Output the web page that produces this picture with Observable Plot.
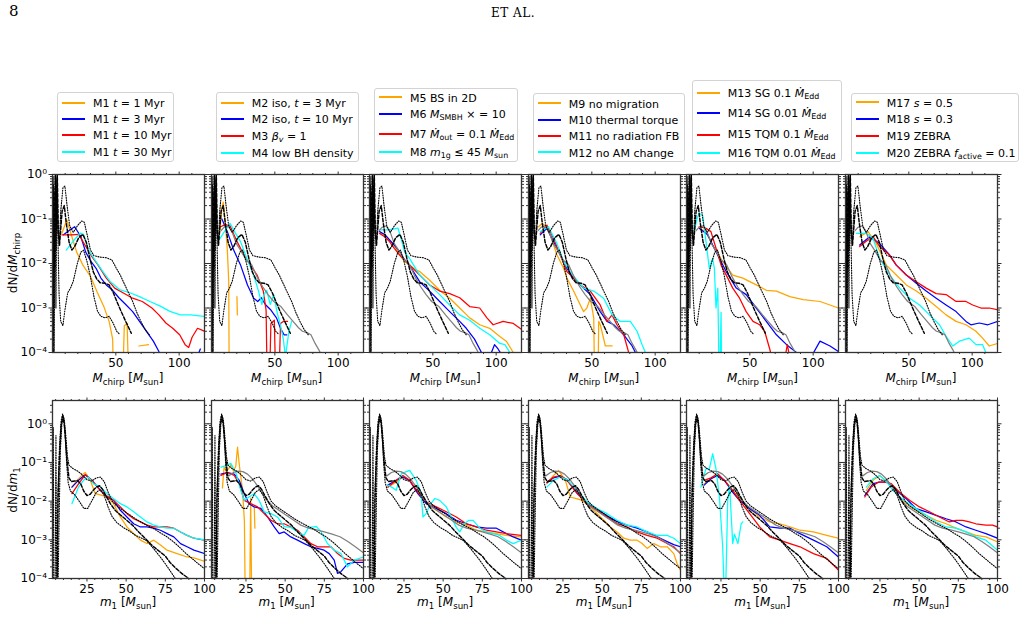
<!DOCTYPE html>
<html><head><meta charset="utf-8">
<script src="https://cdn.jsdelivr.net/npm/d3@7"></script>
<script src="https://cdn.jsdelivr.net/npm/@observablehq/plot@0.6"></script>
<style>
body{margin:0;background:#fff;width:1026px;height:625px;position:relative;overflow:hidden;font-family:"DejaVu Sans",sans-serif;color:#000;}
.abs{position:absolute;white-space:nowrap;}
.lg{position:absolute;border:1px solid #d3d3d3;border-radius:3px;background:#fff;box-sizing:border-box;}
.lg .sw{position:absolute;height:2px;}
.lg .tx{position:absolute;font-size:11px;line-height:11px;white-space:nowrap;transform:translateY(-50%);}
sub{font-size:72%;vertical-align:-0.3em;line-height:0;}
.xl{font-size:12px;transform:translate(-50%,-50%);}
.yl{font-size:12px;transform:translate(-50%,-50%) rotate(-90deg);}
</style></head><body>
<div class="abs" style="left:9px;top:2px;font-family:'DejaVu Serif',serif;font-size:15px;">8</div>
<div class="abs" style="left:513px;top:13px;transform:translate(-50%,-50%);font-family:'DejaVu Serif',serif;font-size:12px;letter-spacing:0.5px;">ET AL.</div>
<script>
// ---------- reference curves (same in every panel of a row) ----------
const topDash = [[0.2,1e-6],[0.9,0.4],[1.5,0.008],[2.3,1.0],[3.1,0.06],[3.8,1.0],[4.6,0.05],[5.5,0.025],[6.5,0.06],[7.6,0.15],[9.3,0.2],[10.9,0.08],[13.1,0.03],[15.3,0.02],[17.5,0.024],[20.7,0.038],[24,0.045],[26.7,0.03],[29.5,0.013],[32.2,0.0065],[34.9,0.0045],[37.6,0.0037],[41.5,0.0036],[44.7,0.0033],[48,0.0022],[51.3,0.0013],[54.5,8e-4],[57.8,5e-4],[60,3.7e-4],[62.2,2.7e-4]];
const topDotHi = [[0,1e-6],[0.5,0.9],[1.2,1e-3],[2,0.9],[2.8,0.02],[3.6,0.8],[4.4,0.05],[5.5,0.03],[6.5,0.15],[8.2,0.5],[9.8,0.55],[11.5,0.2],[13.6,0.07],[16.4,0.05],[19.6,0.07],[22.9,0.09],[25.1,0.085],[27.3,0.045],[30,0.02],[32.7,0.015],[37.1,0.014],[42.5,0.0135],[46.9,0.012],[50.2,0.008],[53.5,0.0055],[56.7,0.0035],[60,0.0022],[63.3,0.0014],[66.5,8e-4],[69.8,5e-4],[73.1,3.3e-4],[76.4,2.5e-4]];
const topDotLo = [[0,1e-6],[0.7,0.6],[1.3,1e-4],[2.1,0.5],[2.7,1e-3],[3.5,0.9],[4.2,0.05],[5.2,0.002],[6.5,5e-4],[8.2,4e-4],[9.8,9e-4],[12,0.0022],[14.2,0.0028],[16.4,0.004],[19.6,0.01],[22.4,0.018],[24.5,0.02],[27.3,0.011],[30,0.005],[32.7,0.0018],[35.5,8.5e-4],[38.2,6.5e-4],[41.5,6e-4],[44.7,6.5e-4],[48,4.5e-4],[50.7,3e-4],[52.9,2.6e-4]];
const topGray = [[7.6,0.055],[9.8,0.065],[13.1,0.07],[16.4,0.05],[19.6,0.028],[22.9,0.02],[27.3,0.012],[31.6,0.0095],[36,0.005],[40.4,0.003],[44.7,0.002],[49.1,0.0014],[54.5,0.0011],[60,7e-4],[64.4,5e-4],[68.7,3.6e-4],[71.8,3e-4],[75.3,2.8e-4],[78.5,2.5e-4],[81.8,1.6e-4],[85.1,1.1e-4],[88.4,7e-5]];

const botDash = [[5.5,1e-6],[6.5,0.01],[7.5,0.15],[8.5,0.9],[9.5,1.6],[10.5,1.0],[11.5,0.3],[12.5,0.09],[13.5,0.04],[15,0.032],[17,0.033],[19,0.034],[21,0.028],[23,0.018],[25,0.014],[27,0.015],[29,0.019],[31,0.023],[33,0.025],[35,0.02],[37,0.014],[40,0.0085],[43,0.0058],[46,0.0045],[50,0.0033],[54,0.0024],[58,0.0016],[62,0.0011],[66,7.5e-4],[70,5.5e-4],[75,3.8e-4],[78,2.6e-4],[82,1.8e-4],[86,1.3e-4],[90,1e-4],[93,7.5e-5]];
const botDotHi = [[3,1e-6],[3.5,0.8],[4.1,1e-6],[5.5,1e-6],[6.5,0.02],[7.5,0.3],[8.5,1.2],[9.5,1.8],[10.5,1.3],[11.5,0.5],[12.5,0.15],[13.5,0.085],[16,0.07],[19,0.06],[22,0.048],[25,0.036],[28,0.033],[31,0.04],[33.5,0.042],[36,0.032],[38.5,0.017],[41,0.01],[44,0.0075],[48,0.0058],[52,0.0045],[56,0.0035],[60,0.0028],[64,0.0023],[68,0.0019],[72,0.0015],[76,0.0012],[80,9e-4],[84,6.5e-4],[88,4.5e-4],[92,3.3e-4],[96,2.4e-4],[100,1.8e-4]];
const botDotLo = [[4.5,1e-6],[5.2,0.5],[5.9,1e-6],[7,1e-3],[8,0.2],[9,1.0],[10,1.5],[11,0.6],[12,0.1],[13,0.03],[14.5,0.018],[17,0.015],[20,0.01],[23,0.0065],[25.5,0.0065],[28,0.01],[31,0.017],[33.5,0.02],[36,0.014],[38.5,0.007],[41,0.004],[44,0.0028],[48,0.0021],[52,0.0017],[56,0.0013],[60,0.0011],[63,9.5e-4],[66,7e-4],[69,5e-4],[72,3.5e-4],[75,2.4e-4],[78,1.6e-4],[81,1.05e-4],[83,8e-5]];
const botGray = [[14,0.045],[17,0.055],[20,0.06],[23,0.058],[26,0.05],[29,0.038],[32,0.026],[35,0.017],[38,0.011],[42,0.0075],[46,0.0058],[50,0.0045],[55,0.0033],[60,0.0024],[65,0.002],[70,0.0018],[75,0.0016],[80,0.0014],[85,0.0012],[90,9e-4],[95,6.5e-4],[100,4.6e-4]];

// ---------- model curves, top row (dN/dMchirp) ----------
const t1_orange = [[7.4,0.048],[11.3,0.095],[15.3,0.04],[19.1,0.018],[24,0.0092],[30,0.0051],[35.5,0.0022],[40.4,0.0011],[44.7,5e-4],[47.5,2e-4],[49.1,1e-6],[51.3,null],[54,1e-6],[56.7,4e-4],[58.9,4.5e-4],[61.6,1e-6],[64.4,null],[68.2,1.4e-4],[75.8,1.5e-4]];
const t1_blue = [[8.7,0.044],[13.1,0.055],[17.5,0.067],[22.4,0.04],[26.2,0.018],[30.5,0.011],[34.4,0.0078],[38.2,0.0047],[42.5,0.0033],[47.5,0.0025],[52.4,0.0017],[57.8,0.0012],[63.3,8.3e-4],[68.7,5e-4],[74.2,3e-4],[79.6,1.8e-4],[84,1.05e-4],[86.2,6e-5],[88.4,null],[113.5,7e-5],[116.7,1.2e-4]];
const t1_red = [[7.4,0.044],[15.3,0.044],[20.7,0.045],[25.6,0.026],[31.1,0.0142],[36,0.0092],[42.5,0.0047],[49.1,0.0028],[55.6,0.0022],[63.3,0.00166],[70.9,0.0014],[78.5,0.001],[84,7e-4],[89.5,4.6e-4],[94.9,3.5e-4],[100.4,2.5e-4],[104.7,1.5e-4],[107.5,1.3e-4],[110.2,2.2e-4],[114.5,3.5e-4],[120,3e-4]];
const t1_cyan = [[10.9,0.02],[16.4,0.032],[21.8,0.048],[24.5,0.045],[28.4,0.02],[34.4,0.011],[39.8,0.0066],[45.3,0.004],[52.9,0.0026],[61.1,0.0022],[68.7,0.0018],[76.9,0.0014],[85.1,0.0011],[92.7,8.4e-4],[100.9,7e-4],[109.1,7e-4],[120,6.5e-4]];

const t2_orange = [[6.5,0.05],[8.2,0.18],[9.3,0.24],[10.9,0.08],[12.5,0.02],[13.6,0.004],[14.2,1e-6],[15.3,null],[20.1,0.0018],[20.4,7e-4]];
const t2_blue = [[8.2,0.1],[12.5,0.052],[17.5,0.02],[22.9,0.0093],[28.4,0.0033],[33.3,0.00166],[36.5,0.0014],[39.3,0.0017],[42.5,0.0012],[46.9,9e-4],[51.3,6e-4],[54.5,3.5e-4],[57.3,2.5e-4],[59.5,2.5e-4]];
const t2_red = [[7.1,0.067],[10.9,0.075],[14.7,0.07],[20.2,0.031],[25.6,0.0155],[30.5,0.0093],[36,0.0055],[40.9,0.0024],[43.1,9e-4],[44.7,1e-6],[46.9,4.5e-4],[49.6,5.3e-4],[51.8,1e-6],[54.5,4.5e-4],[56.7,5e-4],[60,5e-4]];
const t2_cyan = [[6,0.034],[9.8,0.05],[14.7,0.08],[18.5,0.05],[22.9,0.031],[28.4,0.012],[33.3,0.0055],[37.1,0.0024],[39.8,0.0012],[41.5,0.002],[43.6,0.0025],[46.4,0.0012],[49.1,0.002],[51.8,8e-4],[54.5,4e-4],[56.7,2e-4],[58.4,8e-5],[61.1,3e-4],[63.3,5e-4]];

const t3_orange = [[8,0.0475],[12,0.045],[15.8,0.034],[19.6,0.025],[23.8,0.0155],[27.8,0.011],[31.6,0.0092],[35.5,0.0075],[39.6,0.0066],[47.5,0.0042],[55.4,0.0025],[63.3,0.00166],[71.2,0.001],[79.1,6e-4],[87,4.2e-4],[94.9,3.5e-4],[102.9,2.3e-4],[108,1.8e-4],[113.5,1e-4],[115.6,6e-5]];
const t3_blue = [[8,0.052],[12,0.045],[15.8,0.034],[19.6,0.026],[23.8,0.0184],[27.8,0.012],[31.6,0.0092],[35.5,0.006],[39.6,0.0039],[47.5,0.0024],[55.4,0.0014],[63.3,8.3e-4],[71.2,5e-4],[76.4,3.5e-4],[82.9,2e-4],[88.4,1e-4],[90.5,6e-5],[92.7,null],[94.9,8e-5],[98.7,1.5e-4],[101.5,1.2e-4],[104.2,9e-5]];
const t3_red = [[8,0.0475],[12,0.04],[15.8,0.031],[19.6,0.022],[23.8,0.0155],[27.8,0.012],[31.6,0.0093],[39.6,0.0055],[47.5,0.0033],[55.4,0.0024],[63.3,0.0021],[71.2,0.0017],[79.1,0.00108],[87,0.001],[92.7,6e-4],[97.6,4.2e-4],[105.5,5e-4],[113.5,4.5e-4],[120,3.3e-4]];
const t3_cyan = [[8,0.057],[15.8,0.057],[19.6,0.06],[22.5,0.062],[25.1,0.035],[27.7,0.018],[31.6,0.013],[39.6,0.0055],[47.5,0.0033],[55.4,0.002],[63.3,0.00117],[71.2,7e-4],[79.1,5.3e-4],[87,3.5e-4],[94.9,2.5e-4],[102.9,1.6e-4],[106.9,1.5e-4],[110.8,1e-4],[112.4,7e-5]];

const t4_orange = [[8,0.067],[10.6,0.08],[13.6,0.07],[17.1,0.044],[22.5,0.0155],[27.7,0.0078],[30.3,0.0047],[35.6,0.0024],[40.9,0.00117],[43.5,8.3e-4],[46.1,0.001],[48.8,0.00166],[51.5,6e-4],[52.8,1e-6],[54.5,1e-6],[55.4,5e-4],[56.7,4.2e-4],[60.7,1.4e-4],[66,1.4e-4]];
const t4_blue = [[9.3,0.044],[14.5,0.062],[19.7,0.031],[25.1,0.0155],[30.3,0.0078],[35.6,0.0047],[40.9,0.0033],[48.8,0.002],[56.6,8.3e-4],[62,5e-4],[67.3,4.2e-4],[75.2,2.5e-4],[81.8,1.4e-4],[84.4,1e-4],[86.2,6e-5]];
const t4_red = [[9.3,0.0475],[14.5,0.073],[19.7,0.037],[25.1,0.0155],[30.3,0.0066],[35.6,0.0047],[40.9,0.0033],[48.8,0.0024],[56.6,0.00117],[62,5e-4],[65.9,7e-4],[69.8,4.2e-4],[75.2,2.5e-4],[79.1,1e-4],[80.7,5e-5]];
const t4_cyan = [[9.3,0.052],[15.8,0.067],[22.5,0.028],[27.7,0.011],[32.9,0.0066],[38.3,0.0042],[43.5,0.0028],[51.5,0.0024],[59.3,0.00166],[66,7e-4],[72.5,5e-4],[80.4,5e-4],[85.7,3e-4],[89.7,1.5e-4],[92.3,1e-4],[93.8,6e-5]];

const t5_orange = [[10,0.062],[15.4,0.052],[20.6,0.026],[28.6,0.011],[36.5,0.0055],[44.5,0.0047],[55.1,0.0033],[63,0.0025],[71,0.0024],[81.6,0.0018],[92.2,0.00155],[105.4,0.0014],[113.3,0.00117],[120,0.001]];
const t5_blue = [[10,0.062],[16.7,0.044],[23.3,0.0184],[31.3,0.0066],[39.3,0.0028],[47.1,0.002],[55.1,0.001],[63,5e-4],[71,2.5e-4],[79,1.5e-4],[86.8,1e-4],[90.5,7e-5],[97.1,8e-5],[100.4,1e-4],[105.4,1.8e-4],[113.3,1.4e-4],[120,1.05e-4]];
const t5_red = [[10,0.067],[15.4,0.062],[19.3,0.052],[23.3,0.022],[27.3,0.0092],[32.6,0.0047],[36.5,0.0028],[41.9,0.00166],[47.1,8.3e-4],[52.5,5e-4],[57.8,4.2e-4],[61.7,3e-4],[65.7,1.2e-4],[68.3,6e-5],[70.9,null],[77.5,7e-5],[79.6,1.5e-4],[81.8,7e-5]];
const t5_cyan = [[6.1,0.052],[8.2,0.1],[10,0.134],[12.8,0.12],[15.4,0.031],[18,0.0078],[20.6,0.013],[22,0.0078],[23.3,0.001],[24.7,0.0028],[26,1e-5],[27.3,8e-4],[27.9,1e-5]];

const t6_orange = [[11.2,0.04],[17.8,0.052],[24.3,0.028],[32.2,0.0092],[40.1,0.0055],[48,0.0033],[55.9,0.0024],[63.7,0.00166],[71.6,0.00108],[79.4,7e-4],[87.3,5e-4],[95.1,4.2e-4],[103,3e-4],[108.2,2.1e-4],[113.5,1.4e-4],[120,1.6e-4]];
const t6_blue = [[11.2,0.026],[19.1,0.04],[27,0.028],[34.8,0.0155],[40.1,0.0092],[48,0.0055],[55.9,0.0036],[63.7,0.0024],[71.6,0.00166],[79.4,0.00117],[87.3,8.3e-4],[95.1,5e-4],[99,4.2e-4],[105.6,4.6e-4],[112.4,4.2e-4],[120,5e-4]];
const t6_red = [[11.2,0.024],[17.8,0.034],[21.7,0.04],[27,0.024],[34.8,0.0155],[40.1,0.0092],[48,0.0055],[55.9,0.0039],[63.7,0.0028],[71.6,0.0021],[79.4,0.002],[87.3,0.0014],[95.1,0.0014],[100.4,0.00117],[106.9,0.001],[113.5,0.001],[120,9.1e-4]];
const t6_cyan = [[8.6,0.0475],[16.5,0.0475],[21.7,0.037],[27,0.013],[34.8,0.0055],[42.8,0.0028],[50.6,0.00166],[58.5,0.00117],[66.3,7e-4],[74.2,4.2e-4],[79.4,2.3e-4],[84.7,1.4e-4],[89.9,1.8e-4],[97.7,2.1e-4],[103,1.5e-4],[108.2,1.5e-4],[110.8,1e-4],[112.4,7e-5]];

// ---------- model curves, bottom row (dN/dm1) ----------
const b1_orange = [[15.4,0.023],[18.6,0.0345],[22.8,0.0513],[23.9,0.055],[27.1,0.0345],[30.3,0.0156],[33.5,0.0145],[37.8,0.0128],[42,0.0086],[46.3,0.0039],[50.5,0.00215],[54.8,0.00145],[59.1,9.8e-4],[63.3,8e-4],[67.6,9.8e-4],[71.9,7.3e-4],[76.1,5.4e-4],[82.5,4.4e-4],[88.9,3.6e-4],[93.2,3.4e-4],[100,2.8e-4]];
const b1_blue = [[15.4,0.023],[19.6,0.0345],[23.9,0.048],[28.2,0.0345],[33.5,0.019],[37.8,0.0128],[42,0.0105],[46.3,0.0058],[50.5,0.0039],[54.8,0.0026],[59.1,0.00215],[63.3,0.00215],[67.6,0.002],[71.9,0.00177],[76.1,0.00145],[80.4,0.00119],[84.7,8e-4],[88.9,6.6e-4],[93.2,5.4e-4],[100,4.4e-4]];
const b1_red = [[15.4,0.0156],[19.6,0.028],[23.9,0.048],[28.2,0.0345],[33.5,0.019],[37.8,0.0135],[42,0.0105],[46.3,0.0071],[50.5,0.00475],[54.8,0.0035],[59.1,0.0029],[63.3,0.0024],[67.6,0.00215],[71.9,0.00215],[76.1,0.00215],[80.4,0.002],[84.7,0.0016],[88.9,0.0013],[93.2,0.0011],[100,9.8e-4]];
const b1_cyan = [[15.4,0.0086],[19.6,0.0232],[22.8,0.0345],[26,0.042],[29.2,0.028],[33.5,0.0232],[37.8,0.0156],[42,0.0115],[46.3,0.0086],[50.5,0.0071],[54.8,0.0053],[59.1,0.0039],[63.3,0.0029],[67.6,0.0024],[71.9,0.00215],[76.1,0.002],[80.4,0.002],[84.7,0.0016],[88.9,0.0013],[93.2,0.0011],[100,0.001]];

const b2_orange = [[10,0.022],[11,0.075],[12.5,0.06],[14,0.07],[15.5,0.09],[17,0.06],[18.5,0.08],[19.6,0.25],[20.7,0.09],[22.8,0.019],[24,0.003],[24.9,1e-6],[26.5,null],[27,1e-6],[28,0.012],[29,1e-6],[29.5,null],[30.3,0.007],[30.7,0.002]];
const b2_blue = [[9,0.05],[13.2,0.055],[17.5,0.05],[20.7,0.0345],[23.9,0.0156],[27,0.0086],[30.2,0.0071],[34.5,0.0065],[38.8,0.0039],[43,0.00215],[46.2,0.00145],[49.4,0.0016],[53.6,0.00119],[57.9,9.8e-4],[62.2,8e-4],[66.4,6.6e-4],[70.7,6e-4],[74.9,5.4e-4],[78.1,4.4e-4],[81.3,3e-4],[83.4,1.35e-4],[85.6,1.5e-4],[89.8,2.4e-4],[94.1,2.6e-4],[100,2.6e-4]];
const b2_red = [[9,0.046],[13.2,0.055],[17.5,0.046],[20.7,0.028],[23.9,0.0105],[28.1,0.0086],[32.4,0.0071],[36.6,0.00475],[40.9,0.0032],[45.1,0.0026],[49.4,0.0026],[53.6,0.00215],[57.9,0.00177],[62.2,0.00119],[66.4,8e-4],[70.7,6.6e-4],[74.9,6.6e-4],[79.2,6.6e-4],[83.4,4.4e-4],[87.7,3.3e-4],[91.9,3e-4],[100,3e-4]];
const b2_cyan = [[9,0.076],[13.2,0.085],[15.3,0.095],[18.5,0.055],[21.7,0.019],[23.9,0.0105],[27,0.0128],[30.2,0.0156],[33.4,0.0105],[36.6,0.0053],[40.9,0.00475],[45.1,0.0039],[49.4,0.0022],[53.6,0.0021],[58,0.0016],[62,0.0013],[65,0.0021],[70,0.0022],[73,0.0016],[77,8e-4],[81.3,5.4e-4],[85.6,4.4e-4],[89.8,2e-4],[94.1,3e-4],[100,3.6e-4]];

const b3_orange = [[14.7,0.023],[20,0.031],[24.3,0.042],[28.6,0.0345],[33.9,0.0156],[39.2,0.0086],[45.6,0.0058],[52,0.0039],[58.4,0.0029],[64.8,0.0024],[71.2,0.00177],[77.6,0.0016],[84,0.00145],[90.4,0.0013],[100,0.00119]];
const b3_blue = [[14.7,0.026],[20,0.0345],[24.3,0.042],[28.6,0.0345],[33.9,0.0156],[39.2,0.0086],[45.6,0.0064],[52,0.00475],[58.4,0.0032],[64.8,0.0026],[71.2,0.00215],[77.6,0.002],[84,0.002],[90.4,0.00145],[94.7,0.00119],[100,9.8e-4]];
const b3_red = [[14.7,0.023],[20,0.0345],[24.3,0.046],[28.6,0.0345],[33.9,0.017],[39.2,0.0095],[45.6,0.0071],[52,0.0053],[58.4,0.0039],[64.8,0.0026],[71.2,0.00215],[77.6,0.00177],[84,0.0016],[90.4,0.00145],[100,0.0013]];
const b3_cyan = [[14.7,0.026],[18,0.022],[20,0.019],[23.3,0.0513],[28.6,0.0625],[32.8,0.0345],[36,0.0156],[37.1,0.0039],[39.2,0.00475],[41.4,0.0078],[44.6,0.0117],[47.8,0.0105],[52,0.0071],[55.2,0.0039],[58.4,0.0021],[60.6,0.0016],[63.5,0.0026],[66.5,0.0032],[69.1,0.0032],[73.4,0.002],[77.6,0.0016],[81.9,0.00145],[86.1,0.0013],[90.4,9.8e-4],[94.7,8e-4],[100,9.8e-4]];

const b4_orange = [[14.7,0.028],[19,0.046],[22.2,0.0625],[26.5,0.0345],[29.7,0.0128],[34,0.0115],[37.2,0.0105],[42.4,0.0071],[46.7,0.00475],[51,0.0032],[55.2,0.00215],[59.5,0.0016],[63.8,0.0011],[68,9.8e-4],[72.3,9.8e-4],[75.5,8e-4],[78.7,6e-4],[83,8e-4],[87.2,6.6e-4],[91.5,6.6e-4],[95.7,4.4e-4],[97.9,2.4e-4],[100,1.64e-4]];
const b4_blue = [[14.7,0.03],[19,0.04],[23.3,0.044],[27.6,0.036],[34,0.0165],[40.4,0.009],[46.7,0.0062],[53.1,0.0042],[59.5,0.003],[65.9,0.0024],[72.3,0.002],[78.7,0.0016],[85.1,0.0012],[91.5,9e-4],[95.7,7.5e-4],[100,6.6e-4]];
const b4_red = [[14.7,0.031],[19,0.042],[23.3,0.046],[27.6,0.0345],[34,0.0156],[40.4,0.0086],[46.7,0.0058],[53.1,0.0039],[59.5,0.0026],[65.9,0.00215],[72.3,0.0016],[78.7,0.0013],[85.1,0.0011],[91.5,8e-4],[95.7,6.6e-4],[100,4.4e-4]];
const b4_cyan = [[14.7,0.023],[19,0.0345],[23.3,0.042],[27.6,0.036],[34,0.019],[40.4,0.0095],[46.7,0.0064],[53.1,0.00475],[59.5,0.0032],[65.9,0.0024],[72.3,0.00215],[78.7,0.0016],[85.1,0.0013],[91.5,0.0013],[95.7,0.0011],[100,8e-4]];

const b5_orange = [[14.3,0.028],[18.6,0.038],[22.9,0.046],[27.2,0.0345],[32.5,0.019],[36.8,0.0115],[43.3,0.0064],[49.7,0.0039],[56.1,0.0029],[62.5,0.0026],[69,0.00215],[75.4,0.00177],[84,0.0016],[92.5,0.0013],[100,0.0011]];
const b5_blue = [[14.3,0.026],[18.6,0.038],[22.9,0.046],[27.2,0.0345],[32.5,0.017],[36.8,0.0105],[43.3,0.0064],[49.7,0.0043],[56.1,0.00215],[62.5,0.002],[69,0.002],[75.4,0.00145],[84,9.8e-4],[92.5,6.6e-4],[100,3.6e-4]];
const b5_red = [[14.3,0.0345],[18.6,0.04],[22.9,0.0513],[27.2,0.0345],[32.5,0.019],[36.8,0.0105],[43.3,0.00475],[49.7,0.00215],[56.1,0.00119],[62.5,9.8e-4],[69,8e-4],[75.4,6.6e-4],[84,4.4e-4],[92.5,3.3e-4],[100,1.64e-4]];
const b5_cyan = [[12.2,0.023],[15.4,0.069],[17.6,0.069],[19.7,0.168],[21.8,0.069],[24,0.0128],[26.1,6.6e-4],[27.6,1e-5],[29.3,0.01],[30.5,0.025],[32.5,8e-4],[33.6,0.0014],[35.8,8e-4],[37.9,0.0026],[39,0.0029]];

const b6_orange = [[16.3,0.019],[20.6,0.0345],[24.8,0.046],[28.5,0.034],[33.3,0.0232],[37.5,0.0128],[41.8,0.0086],[48.1,0.0058],[54.5,0.0043],[60.8,0.0032],[67.2,0.0026],[73.5,0.002],[79.9,0.0016],[86.2,0.0013],[92.6,0.00119],[100,8.9e-4]];
const b6_blue = [[15.3,0.014],[20.6,0.0283],[24.8,0.031],[30.1,0.031],[35.4,0.019],[41.8,0.0115],[48.1,0.0064],[54.5,0.0053],[60.8,0.0043],[67.2,0.0035],[73.5,0.0029],[79.9,0.00215],[86.2,0.00177],[92.6,0.00145],[100,0.0011]];
const b6_red = [[15.3,0.0128],[19.5,0.0232],[23.8,0.031],[28,0.031],[32.2,0.0283],[37.5,0.017],[43.9,0.0105],[50.2,0.0071],[56.6,0.0053],[62.9,0.0039],[69.3,0.0029],[73.5,0.0032],[77.8,0.0032],[82,0.0029],[86.2,0.0026],[92.6,0.0024],[96.8,0.0024],[100,0.00215]];
const b6_cyan = [[16.3,0.023],[20.6,0.038],[24.8,0.046],[28.5,0.034],[33.3,0.019],[37.5,0.0128],[41.8,0.0095],[48.1,0.0064],[54.5,0.0043],[60.8,0.0029],[67.2,0.00215],[73.5,0.002],[79.9,0.0016],[86.2,0.00119],[92.6,9.8e-4],[100,5.4e-4]];

// ---------- legends and ticks ----------
const legend1 = ["M1 <i>t</i> = 1 Myr","M1 <i>t</i> = 3 Myr","M1 <i>t</i> = 10 Myr","M1 <i>t</i> = 30 Myr"];
const legend2 = ["M2 iso, <i>t</i> = 3 Myr","M2 iso, <i>t</i> = 10 Myr","M3 <i>β<sub>v</sub></i> = 1","M4 low BH density"];
const legend3 = ["M5 BS in 2D","M6 <i>M</i><sub>SMBH</sub> × = 10","M7 <i>Ṁ</i><sub>out</sub> = 0.1 <i>Ṁ</i><sub>Edd</sub>","M8 <i>m</i><sub>1g</sub> ≤ 45 <i>M</i><sub>sun</sub>"];
const legend4 = ["M9 no migration","M10 thermal torque","M11 no radiation FB","M12 no AM change"];
const legend5 = ["M13 SG 0.1 <i>Ṁ</i><sub>Edd</sub>","M14 SG 0.01 <i>Ṁ</i><sub>Edd</sub>","M15 TQM 0.1 <i>Ṁ</i><sub>Edd</sub>","M16 TQM 0.01 <i>Ṁ</i><sub>Edd</sub>"];
const legend6 = ["M17 <i>s</i> = 0.5","M18 <i>s</i> = 0.3","M19 ZEBRA","M20 ZEBRA <i>f</i><sub>active</sub> = 0.1"];
const seriesColors = ["#ffa500","#0000ff","#ff0000","#00ffff"];
const topXTicks = [50,100];
const botXTicks = [25,50,75,100];
const yTicks = [1e-4,1e-3,1e-2,1e-1,1];

const topPanels = [
  [t1_orange,t1_blue,t1_red,t1_cyan],[t2_orange,t2_blue,t2_red,t2_cyan],[t3_orange,t3_blue,t3_red,t3_cyan],
  [t4_orange,t4_blue,t4_red,t4_cyan],[t5_orange,t5_blue,t5_red,t5_cyan],[t6_orange,t6_blue,t6_red,t6_cyan]];
const botPanels = [
  [b1_orange,b1_blue,b1_red,b1_cyan],[b2_orange,b2_blue,b2_red,b2_cyan],[b3_orange,b3_blue,b3_red,b3_cyan],
  [b4_orange,b4_blue,b4_red,b4_cyan],[b5_orange,b5_blue,b5_red,b5_cyan],[b6_orange,b6_blue,b6_red,b6_cyan]];
const legends = [legend1,legend2,legend3,legend4,legend5,legend6];

// ---------- drawing ----------
const supMap = {"-":"⁻","0":"⁰","1":"¹","2":"²","3":"³","4":"⁴"};
const fmtY = v => "10" + String(Math.round(Math.log10(v))).split("").map(c => supMap[c]).join("");
const blank = () => "";
const PW = 152, PH = 178, M = 4;
const lefts = d3.range(6).map(i => 52 + i * 158.6);

function minorY(maxv){ const a=[]; for(let e=-4;e<=0;e++) for(let m=2;m<=9;m++){const v=m*Math.pow(10,e); if(v<maxv) a.push(v);} return a; }

function panel(isTop, i, models){
  const xDomain = isTop ? [0,120] : [3,100];
  const yDomain = isTop ? [1e-4,1] : [1e-4,4];
  const xt = isTop ? topXTicks : botXTicks;
  const xMinor = isTop ? [10,20,30,40,60,70,80,90,110] : d3.range(5,100,5).filter(v => v % 25);
  const yMinor = minorY(yDomain[1]);
  const acc = {x: d => d[0], y: d => (d[1] == null ? NaN : d[1]), clip: true};
  const marks = [];
  models.forEach((data, k) => marks.push(Plot.line(data, {...acc, stroke: seriesColors[k], strokeWidth: 1.25})));
  if (i > 0) marks.push(Plot.line(isTop ? topGray : botGray, {...acc, stroke: "#808080", strokeWidth: 1.25}));
  marks.push(Plot.line(isTop ? topDotHi : botDotHi, {...acc, stroke: "#000", strokeWidth: 1.1, strokeDasharray: "1,1.5"}));
  marks.push(Plot.line(isTop ? topDotLo : botDotLo, {...acc, stroke: "#000", strokeWidth: 1.1, strokeDasharray: "1,1.5"}));
  marks.push(Plot.line(isTop ? topDash : botDash, {...acc, stroke: "#000", strokeWidth: 1.45, strokeDasharray: "3.5,1.8"}));
  const ax = (f, o) => marks.push(f({label: null, stroke: "#333", ...o}));
  ax(Plot.axisY, {anchor: "left", ticks: yTicks, tickSize: 3.5, tickPadding: 2, tickFormat: i === 0 ? fmtY : blank, fontSize: 12});
  ax(Plot.axisY, {anchor: "right", ticks: yTicks, tickSize: 3.5, tickFormat: blank});
  ax(Plot.axisY, {anchor: "left", ticks: yMinor, tickSize: 2, tickFormat: blank});
  ax(Plot.axisY, {anchor: "right", ticks: yMinor, tickSize: 2, tickFormat: blank});
  ax(Plot.axisX, {anchor: "bottom", ticks: xt, tickSize: 3.5, tickPadding: 2, tickFormat: d => String(d), fontSize: 12});
  ax(Plot.axisX, {anchor: "top", ticks: xt, tickSize: 3.5, tickFormat: blank});
  ax(Plot.axisX, {anchor: "bottom", ticks: xMinor, tickSize: 2, tickFormat: blank});
  ax(Plot.axisX, {anchor: "top", ticks: xMinor, tickSize: 2, tickFormat: blank});
  marks.push(Plot.frame({stroke: "#333", strokeWidth: 1.3}));
  const svg = Plot.plot({
    width: PW + 2*M, height: PH + 2*M, marginLeft: M, marginRight: M, marginTop: M, marginBottom: M,
    x: {type: "linear", domain: xDomain}, y: {type: "log", domain: yDomain},
    style: {background: "transparent", overflow: "visible", fontFamily: "DejaVu Sans", fontSize: "12px", color: "#000"},
    marks
  });
  const div = document.createElement("div");
  div.className = "abs";
  div.style.left = (lefts[i] - M) + "px";
  div.style.top = ((isTop ? 174 : 400) - M) + "px";
  div.style.width = (PW + 2*M) + "px";
  div.appendChild(svg);
  document.body.appendChild(div);
}
topPanels.forEach((m, i) => panel(true, i, m));
botPanels.forEach((m, i) => panel(false, i, m));

function addText(cls, x, y, html){
  const d = document.createElement("div");
  d.className = "abs " + cls; d.style.left = x + "px"; d.style.top = y + "px"; d.innerHTML = html;
  document.body.appendChild(d);
}
lefts.forEach(l => {
  addText("xl", l + PW/2, 378, "<i>M</i><sub>chirp</sub> [<i>M</i><sub>sun</sub>]");
  addText("xl", l + PW/2, 602, "<i>m</i><sub>1</sub> [<i>M</i><sub>sun</sub>]");
});
addText("yl", 13, 263, "dN/d<i>M</i><sub>chirp</sub>");
addText("yl", 13, 490, "dN/d<i>m</i><sub>1</sub>");

const boxes = [
  {l:57, t:92, w:117, h:70, rows:[9.7,25.7,42.3,59]},
  {l:215.7, t:92, w:143.6, h:70, rows:[9.7,25.7,43.3,59.7]},
  {l:374, t:88.3, w:143.7, h:73.4, rows:[8.4,25,45,62.7]},
  {l:532.7, t:93.3, w:152.3, h:68.4, rows:[9.4,26,41.7,58.4]},
  {l:691.7, t:79.7, w:150, h:82.6, rows:[12,32,53.6,72]},
  {l:850.7, t:93.3, w:168.6, h:69, rows:[8.4,25,41.7,59]}];
boxes.forEach((b, i) => {
  const d = document.createElement("div");
  d.className = "lg";
  Object.assign(d.style, {left: b.l+"px", top: b.t+"px", width: b.w+"px", height: b.h+"px"});
  legends[i].forEach((lab, k) => {
    const s = document.createElement("div");
    s.className = "sw";
    s.style.left = "4px"; s.style.width = "23px";
    s.style.top = Math.round(b.rows[k] - 1) + "px";
    s.style.backgroundColor = seriesColors[k];
    d.appendChild(s);
    const t = document.createElement("div");
    t.className = "tx"; t.style.left = "35px"; t.style.top = b.rows[k] + "px"; t.innerHTML = lab;
    d.appendChild(t);
  });
  document.body.appendChild(d);
});
</script>
</body></html>
